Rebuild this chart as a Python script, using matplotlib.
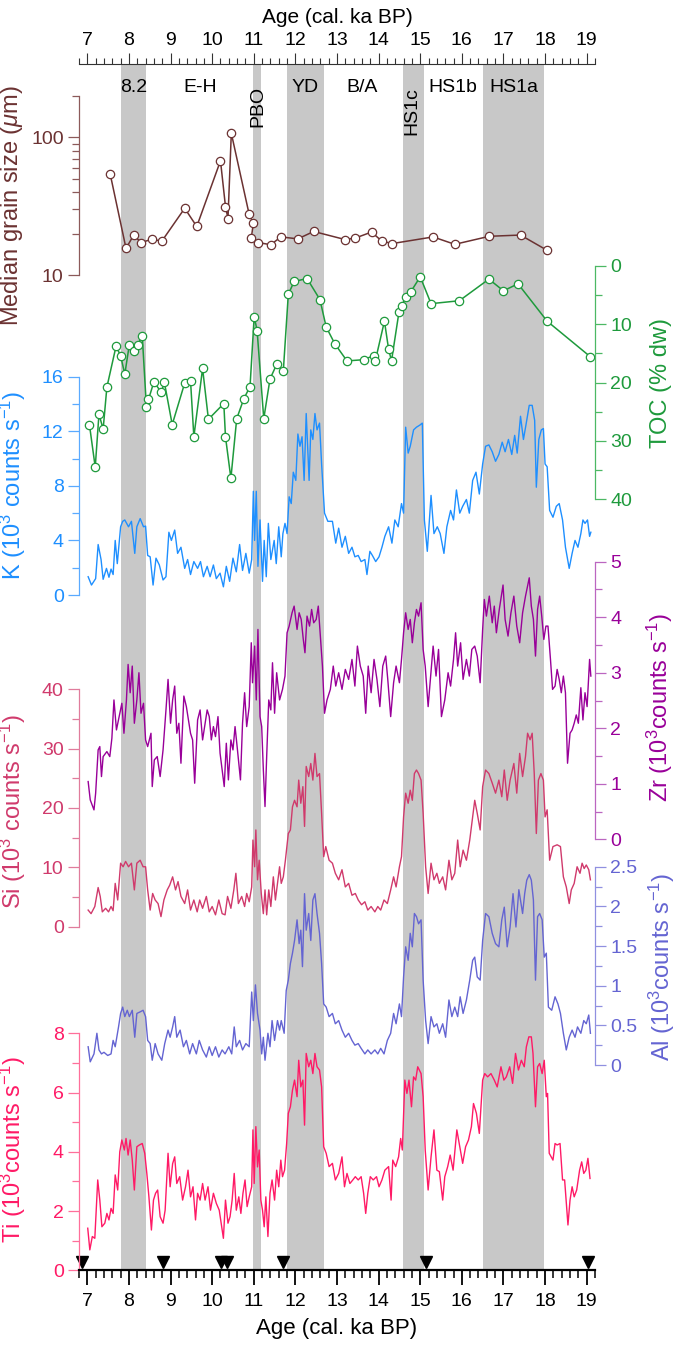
import matplotlib
matplotlib.use('Agg')
import numpy as np
import matplotlib.pyplot as plt
import matplotlib.transforms as mtransforms
from matplotlib.ticker import MultipleLocator, NullFormatter, FixedLocator

plt.rcParams['font.family'] = ['Liberation Sans', 'DejaVu Sans']
plt.rcParams['mathtext.fontset'] = 'custom'
plt.rcParams['mathtext.rm'] = 'Liberation Sans'
plt.rcParams['mathtext.it'] = 'Liberation Sans:italic'
plt.rcParams['mathtext.bf'] = 'Liberation Sans:bold'

# ---------------- data ----------------
bands = [(7.82, 8.40), (10.97, 11.18), (11.81, 12.68), (14.58, 15.08), (16.52, 17.98)]
band_labels = ['8.2', 'E-H', 'PBO', 'YD', 'B/A', 'HS1c', 'HS1b', 'HS1a']
band_label_age = [8.11, 9.72, 11.09, 12.24, 13.61, 14.80, 15.78, 17.25]

grain_age = [7.55, 7.93, 8.11, 8.30, 8.55, 8.79, 9.34, 9.63, 10.20, 10.32, 10.38, 10.46, 10.89, 10.99,
             10.94, 11.10, 11.41, 11.65, 12.06, 12.44, 13.19, 13.43, 13.83, 14.07, 14.32, 15.31,
             15.83, 16.66, 17.41, 18.05]
grain_val = [54, 15.6, 19.4, 17.2, 18.2, 17.6, 30.5, 22.5, 67.5, 31.4, 25.7, 107, 27.5, 23.8,
             18.5, 17.2, 16.6, 18.9, 18.3, 20.7, 18.1, 18.5, 20.5, 17.7, 16.9, 18.9,
             16.7, 19.1, 19.5, 15.1]

toc_age = [7.05, 7.19, 7.28, 7.38, 7.47, 7.69, 7.80, 7.90, 8.01, 8.11, 8.21, 8.32, 8.42, 8.47, 8.60,
           8.78, 8.85, 9.04, 9.34, 9.48, 9.56, 9.77, 9.91, 10.28, 10.32, 10.45, 10.59, 10.76, 10.91,
           11.01, 11.08, 11.24, 11.39, 11.55, 11.71, 11.83, 11.97, 12.28, 12.59, 12.74, 12.95, 13.24,
           13.64, 13.88, 13.92, 14.14, 14.24, 14.31, 14.49, 14.55, 14.66, 14.77, 15.00, 15.26, 15.94,
           16.65, 17.00, 17.35, 18.05, 19.09]
toc_val = [27.2, 34.5, 25.4, 28.0, 20.8, 13.8, 15.4, 18.6, 13.5, 14.6, 13.5, 12.0, 24.2, 22.9, 19.9,
           21.7, 19.9, 27.2, 20.1, 19.7, 29.3, 17.6, 26.3, 23.6, 29.3, 36.4, 26.2, 22.8, 20.7,
           8.7, 11.1, 26.2, 19.4, 16.9, 18.0, 4.9, 2.7, 2.2, 5.8, 10.5, 13.4, 16.3,
           16.1, 15.4, 16.3, 9.5, 14.3, 16.3, 7.9, 6.9, 5.3, 4.5, 1.9, 6.5, 6.0,
           2.3, 4.3, 3.1, 9.5, 15.6]

k_age = [7.02, 7.10, 7.20, 7.26, 7.33, 7.38, 7.46, 7.52, 7.57, 7.62, 7.67, 7.72, 7.80, 7.85, 7.90,
         7.99, 8.06, 8.14, 8.19, 8.27, 8.35, 8.40, 8.45, 8.51, 8.58, 8.65, 8.73, 8.82, 8.89, 8.96,
         9.02, 9.10, 9.17, 9.25, 9.34, 9.41, 9.48, 9.56, 9.65, 9.72, 9.79, 9.88, 9.95, 10.03, 10.10,
         10.19, 10.27, 10.34, 10.42, 10.50, 10.58, 10.66, 10.73, 10.81, 10.89, 10.95, 10.99, 11.02,
         11.06, 11.10, 11.15, 11.21, 11.25, 11.30, 11.35, 11.41, 11.49, 11.54, 11.60, 11.66, 11.70,
         11.75, 11.80, 11.85, 11.90, 11.95, 12.01, 12.06, 12.11, 12.16, 12.21, 12.26, 12.33, 12.37,
         12.42, 12.47, 12.52, 12.58, 12.63, 12.70, 12.78, 12.89, 12.97, 13.04, 13.12, 13.20, 13.28,
         13.36, 13.43, 13.51, 13.58, 13.67, 13.72, 13.79, 13.85, 13.93, 14.01, 14.08, 14.15, 14.24,
         14.32, 14.39, 14.47, 14.55, 14.60, 14.65, 14.71, 14.76, 14.84, 14.91, 14.99, 15.05, 15.10,
         15.17, 15.26, 15.33, 15.41, 15.48, 15.57, 15.64, 15.73, 15.80, 15.87, 15.95, 16.02, 16.11,
         16.18, 16.26, 16.34, 16.42, 16.50, 16.57, 16.65, 16.73, 16.81, 16.89, 16.97, 17.04, 17.12,
         17.20, 17.27, 17.33, 17.41, 17.48, 17.54, 17.62, 17.69, 17.75, 17.79, 17.85, 17.91, 17.96,
         18.00, 18.05, 18.11, 18.19, 18.27, 18.34, 18.42, 18.49, 18.58, 18.65, 18.72, 18.79, 18.86,
         18.91, 18.96, 19.02, 19.07, 19.10]
k_val = [1.34, 0.73, 1.2, 3.7, 2.6, 1.15, 1.95, 1.3, 1.9, 1.5, 4.0, 2.3, 5.0, 5.4, 5.5,
         5.0, 5.4, 3.05, 5.0, 5.6, 5.0, 5.05, 2.9, 2.8, 0.73, 2.7, 2.2, 1.1, 1.34, 4.6,
         4.0, 4.76, 3.05, 3.5, 1.95, 2.6, 1.5, 2.45, 1.95, 2.45, 1.34, 2.1, 1.34, 2.2, 1.2,
         1.6, 0.6, 2.1, 1.0, 2.7, 1.7, 3.7, 1.8, 3.05, 1.6, 2.6, 7.6, 4.0,
         7.6, 2.1, 5.5, 1.0, 4.0, 1.34, 5.25, 2.6, 4.0, 2.3, 5.0, 2.8, 4.5,
         5.25, 4.5, 7.2, 6.7, 9.0, 8.4, 11.8, 10.9, 11.6, 8.4, 13.3, 8.4, 12.1,
         11.4, 13.3, 12.1, 12.6, 9.6, 6.0, 5.4, 5.4, 3.8, 4.9, 3.5, 4.3, 3.05,
         3.5, 2.8, 2.9, 2.45, 2.6, 1.5, 3.2, 2.9, 2.45, 2.8, 3.5, 4.3, 5.0,
         3.8, 5.5, 5.0, 6.7, 6.0, 12.3, 10.4, 10.9, 12.1, 12.3, 12.45, 12.6, 5.5,
         3.2, 7.3, 4.5, 5.0, 4.5, 3.05, 5.0, 6.2, 5.5, 7.7, 6.0, 6.5, 7.0,
         6.0, 8.4, 9.0, 7.4, 9.6, 10.9, 11.0, 10.5, 9.8, 10.3, 11.2, 10.5, 11.4,
         10.3, 11.7, 10.4, 13.1, 11.4, 12.45, 13.9, 13.9, 12.8, 7.9, 11.4, 12.1, 12.2,
         9.6, 9.4, 6.2, 5.7, 6.5, 6.7, 5.5, 3.5, 1.95, 3.05, 4.0, 3.5, 4.5,
         5.5, 5.25, 5.5, 4.3, 4.6]

zr_age = [7.02, 7.07, 7.16, 7.20, 7.26, 7.30, 7.34, 7.38, 7.47, 7.54, 7.59, 7.64, 7.70, 7.78, 7.83,
          7.88, 7.94, 7.98, 8.03, 8.08, 8.13, 8.19, 8.24, 8.29, 8.35, 8.40, 8.45, 8.53, 8.56, 8.61,
          8.68, 8.75, 8.82, 8.89, 8.94, 9.00, 9.05, 9.10, 9.15, 9.20, 9.25, 9.32, 9.38, 9.43, 9.48,
          9.53, 9.58, 9.65, 9.71, 9.77, 9.82, 9.88, 9.93, 9.98, 10.03, 10.08, 10.14, 10.19, 10.24,
          10.29, 10.34, 10.39, 10.45, 10.50, 10.55, 10.60, 10.68, 10.73, 10.78, 10.83, 10.89, 10.94,
          10.97, 11.02, 11.06, 11.10, 11.15, 11.19, 11.23, 11.27, 11.31, 11.36, 11.41, 11.45, 11.50,
          11.55, 11.62, 11.69, 11.75, 11.80, 11.85, 11.92, 11.97, 12.04, 12.09, 12.14, 12.19, 12.23,
          12.28, 12.34, 12.39, 12.44, 12.50, 12.55, 12.60, 12.65, 12.70, 12.76, 12.84, 12.91, 12.97,
          13.04, 13.12, 13.20, 13.28, 13.36, 13.43, 13.49, 13.56, 13.63, 13.69, 13.75, 13.82, 13.89,
          13.96, 14.03, 14.10, 14.17, 14.22, 14.29, 14.36, 14.42, 14.50, 14.55, 14.60, 14.65, 14.71,
          14.76, 14.81, 14.86, 14.91, 14.96, 15.02, 15.07, 15.12, 15.19, 15.31, 15.38, 15.44, 15.51,
          15.59, 15.67, 15.73, 15.80, 15.85, 15.90, 15.97, 16.03, 16.11, 16.18, 16.24, 16.31, 16.37,
          16.44, 16.50, 16.54, 16.59, 16.66, 16.73, 16.78, 16.83, 16.90, 16.99, 17.04, 17.11, 17.18,
          17.25, 17.32, 17.39, 17.46, 17.53, 17.62, 17.67, 17.72, 17.77, 17.82, 17.87, 17.92, 17.97,
          18.02, 18.07, 18.13, 18.18, 18.24, 18.29, 18.34, 18.39, 18.44, 18.49, 18.54, 18.60, 18.65,
          18.70, 18.75, 18.80, 18.86, 18.91, 18.96, 19.01, 19.07, 19.10]
zr_val = [1.04, 0.71, 0.53, 0.83, 1.61, 1.67, 1.13, 1.49, 1.58, 1.49, 1.82, 2.51, 1.97, 2.27, 2.45,
          1.91, 2.51, 3.15, 2.64, 3.12, 2.09, 2.51, 3.0, 2.27, 2.45, 1.79, 1.67, 1.91, 0.95, 1.43,
          1.49, 1.13, 1.61, 2.33, 2.88, 2.09, 2.51, 2.76, 1.91, 2.09, 1.37, 2.58, 2.39, 2.15, 1.91,
          1.79, 1.01, 2.15, 2.33, 1.79, 2.03, 2.33, 2.21, 1.79, 2.03, 1.85, 2.21, 1.55, 1.25,
          0.95, 1.73, 1.07, 1.79, 1.61, 2.03, 1.67, 1.07, 2.09, 2.64, 2.03, 2.39, 3.54,
          2.82, 3.48, 2.51, 3.78, 2.21, 2.03, 1.25, 0.59, 1.49, 2.51, 2.33, 3.18, 2.27,
          3.0, 2.51, 2.70, 2.94, 3.72, 3.84, 4.08, 4.20, 3.78, 4.08, 3.96, 3.60, 3.36,
          4.02, 3.84, 4.14, 3.90, 3.96, 4.20, 3.66, 3.12, 2.27, 2.51, 2.70, 3.12, 2.76,
          3.0, 2.70, 3.06, 2.88, 3.24, 2.76, 3.48, 3.12, 2.94, 2.27, 3.12, 2.64, 3.24,
          2.88, 2.39, 3.12, 3.30, 2.88, 2.21, 2.82, 3.12, 2.82, 3.24, 3.72, 4.08, 3.78,
          3.96, 3.54, 3.90, 4.14, 4.02, 4.26, 3.42, 3.12, 2.39, 3.48, 2.94, 3.42, 2.21,
          2.51, 3.0, 2.76, 3.24, 3.72, 3.12, 3.54, 2.88, 3.24, 2.94, 3.42, 3.48, 3.30,
          2.82, 3.78, 4.32, 4.02, 4.38, 3.90, 4.20, 3.72, 4.14, 4.58, 3.96, 3.66, 4.08,
          4.38, 3.84, 3.54, 4.08, 4.38, 4.71, 4.20, 3.96, 3.30, 4.14, 4.38, 4.02, 3.60,
          3.84, 3.84, 3.24, 2.70, 2.76, 3.06, 2.88, 2.64, 2.94, 2.64, 1.37, 1.91, 1.97,
          2.09, 2.24, 2.09, 2.73, 2.15, 2.64, 2.39, 3.24, 2.94]

si_age = [7.02, 7.09, 7.18, 7.26, 7.31, 7.36, 7.44, 7.51, 7.57, 7.62, 7.67, 7.73, 7.80, 7.86, 7.92,
          7.99, 8.06, 8.13, 8.19, 8.27, 8.34, 8.40, 8.45, 8.51, 8.57, 8.63, 8.70, 8.77, 8.84, 8.92,
          8.98, 9.05, 9.12, 9.18, 9.25, 9.34, 9.41, 9.48, 9.56, 9.64, 9.70, 9.77, 9.86, 9.93, 10.00,
          10.08, 10.16, 10.24, 10.31, 10.37, 10.45, 10.52, 10.57, 10.63, 10.71, 10.78, 10.83, 10.89,
          10.95, 10.98, 11.02, 11.05, 11.09, 11.13, 11.18, 11.23, 11.27, 11.31, 11.36, 11.41, 11.47,
          11.52, 11.57, 11.62, 11.66, 11.71, 11.76, 11.83, 11.88, 11.93, 11.98, 12.04, 12.08, 12.13,
          12.18, 12.22, 12.26, 12.32, 12.37, 12.42, 12.47, 12.52, 12.58, 12.63, 12.68, 12.73, 12.81,
          12.89, 12.96, 13.04, 13.12, 13.20, 13.28, 13.36, 13.44, 13.51, 13.59, 13.67, 13.74, 13.82,
          13.91, 13.98, 14.05, 14.13, 14.21, 14.29, 14.36, 14.42, 14.50, 14.55, 14.60, 14.65, 14.71,
          14.76, 14.81, 14.86, 14.91, 14.96, 15.02, 15.07, 15.13, 15.19, 15.26, 15.33, 15.40, 15.46,
          15.54, 15.61, 15.69, 15.76, 15.83, 15.90, 15.96, 16.03, 16.11, 16.19, 16.26, 16.31, 16.37,
          16.44, 16.50, 16.57, 16.65, 16.73, 16.81, 16.89, 16.96, 17.02, 17.09, 17.16, 17.25, 17.32,
          17.39, 17.46, 17.53, 17.58, 17.64, 17.69, 17.74, 17.79, 17.84, 17.90, 17.96, 18.00, 18.05,
          18.11, 18.19, 18.29, 18.37, 18.44, 18.51, 18.58, 18.63, 18.70, 18.77, 18.84, 18.89, 18.94,
          18.99, 19.05, 19.09]
si_val = [2.8, 2.2, 3.4, 6.6, 5.1, 2.5, 3.1, 2.5, 3.4, 2.7, 7.3, 4.5, 10.7, 10.1, 11.0,
          10.1, 10.7, 6.2, 10.7, 11.2, 10.1, 10.1, 6.2, 2.8, 5.6, 4.5, 3.9, 1.7, 4.5, 6.2,
          7.0, 8.4, 6.2, 7.6, 5.1, 3.9, 6.2, 2.8, 4.5, 2.5, 4.5, 3.1, 5.1, 2.5, 3.4,
          2.0, 4.5, 2.2, 2.0, 5.1, 3.1, 6.2, 9.0, 3.9, 5.1, 3.4, 5.6, 4.2,
          6.7, 14.6, 10.1, 16.3, 7.9, 11.2, 5.6, 2.2, 6.2, 2.0, 6.2, 3.4, 8.4,
          4.5, 7.3, 10.1, 7.3, 8.4, 11.2, 15.7, 16.3, 20.2, 21.3, 20.2, 24.7, 20.8,
          23.6, 16.9, 27.0, 25.3, 27.5, 24.7, 29.2, 25.3, 25.8, 19.1, 11.8, 13.5, 11.2,
          10.7, 9.0, 7.9, 9.6, 6.7, 7.3, 5.3, 5.6, 4.5, 3.7, 4.2, 2.8, 3.4,
          2.5, 3.4, 2.8, 4.5, 3.9, 6.2, 8.4, 6.7, 10.1, 11.8, 18.5, 22.5, 20.8,
          23.0, 21.3, 25.8, 26.4, 25.8, 24.7, 19.1, 10.1, 5.6, 10.7, 7.9, 9.0, 7.3,
          8.4, 6.2, 11.2, 7.9, 9.0, 14.6, 10.1, 12.9, 11.2, 14.6, 18.5, 21.3, 19.1,
          16.3, 23.6, 26.4, 25.8, 24.2, 22.5, 24.7, 21.9, 26.4, 21.3, 24.7, 27.5, 22.5,
          29.2, 25.3, 28.7, 32.6, 31.5, 32.6, 25.8, 15.7, 24.7, 25.8, 24.7, 18.5, 19.7,
          11.2, 13.5, 13.8, 13.5, 8.4, 6.7, 3.9, 6.2, 7.3, 10.1, 9.0, 10.7, 9.8,
          10.4, 9.6, 7.9]

al_age = [7.02, 7.07, 7.16, 7.23, 7.28, 7.34, 7.40, 7.49, 7.57, 7.62, 7.67, 7.75, 7.80, 7.85, 7.90,
          7.96, 8.01, 8.08, 8.14, 8.19, 8.27, 8.34, 8.40, 8.45, 8.51, 8.56, 8.63, 8.70, 8.79, 8.86,
          8.94, 8.99, 9.05, 9.10, 9.15, 9.23, 9.31, 9.38, 9.46, 9.53, 9.62, 9.69, 9.77, 9.86, 9.93,
          10.00, 10.08, 10.16, 10.24, 10.31, 10.40, 10.47, 10.53, 10.58, 10.66, 10.73, 10.81, 10.89,
          10.95, 10.99, 11.04, 11.09, 11.15, 11.19, 11.23, 11.27, 11.34, 11.39, 11.44, 11.50, 11.57,
          11.62, 11.66, 11.73, 11.78, 11.83, 11.88, 11.93, 11.98, 12.04, 12.09, 12.13, 12.17, 12.22,
          12.26, 12.32, 12.37, 12.42, 12.47, 12.52, 12.58, 12.63, 12.68, 12.74, 12.81, 12.89, 12.96,
          13.04, 13.12, 13.20, 13.28, 13.36, 13.43, 13.51, 13.58, 13.67, 13.74, 13.82, 13.91, 13.98,
          14.05, 14.13, 14.21, 14.29, 14.36, 14.42, 14.50, 14.55, 14.60, 14.65, 14.71, 14.76, 14.81,
          14.86, 14.91, 14.96, 15.02, 15.07, 15.13, 15.19, 15.26, 15.33, 15.40, 15.46, 15.54, 15.61,
          15.69, 15.76, 15.83, 15.90, 15.96, 16.03, 16.11, 16.19, 16.26, 16.31, 16.37, 16.44, 16.50,
          16.57, 16.65, 16.73, 16.81, 16.89, 16.96, 17.02, 17.09, 17.16, 17.23, 17.30, 17.37, 17.46,
          17.51, 17.56, 17.62, 17.67, 17.72, 17.77, 17.82, 17.87, 17.93, 17.98, 18.03, 18.08, 18.16,
          18.24, 18.31, 18.37, 18.44, 18.51, 18.58, 18.65, 18.72, 18.78, 18.86, 18.93, 18.99, 19.05,
          19.09]
al_val = [0.23, 0.04, 0.14, 0.40, 0.19, 0.14, 0.16, 0.12, 0.14, 0.31, 0.23, 0.48, 0.65, 0.73, 0.61,
          0.69, 0.61, 0.69, 0.35, 0.65, 0.67, 0.69, 0.61, 0.31, 0.27, 0.06, 0.27, 0.14, 0.06, 0.27,
          0.44, 0.35, 0.48, 0.61, 0.35, 0.44, 0.23, 0.31, 0.14, 0.27, 0.14, 0.31, 0.19, 0.10, 0.23,
          0.12, 0.23, 0.10, 0.19, 0.14, 0.23, 0.14, 0.48, 0.23, 0.31, 0.19, 0.27, 0.23,
          0.92, 0.56, 1.01, 0.65, 0.44, 0.14, 0.35, 0.06, 0.40, 0.23, 0.56, 0.31, 0.56,
          0.44, 0.56, 0.40, 0.94, 1.07, 1.28, 1.41, 1.57, 1.83, 1.53, 1.70, 1.24, 2.16,
          1.70, 1.91, 1.57, 2.08, 2.16, 1.91, 1.66, 1.28, 0.77, 0.73, 0.61, 0.65, 0.52,
          0.56, 0.44, 0.35, 0.40, 0.31, 0.25, 0.27, 0.21, 0.14, 0.19, 0.14, 0.19, 0.14,
          0.21, 0.14, 0.31, 0.40, 0.65, 0.52, 0.77, 0.61, 1.11, 1.49, 1.32, 1.66, 1.49,
          1.91, 1.87, 1.78, 1.83, 1.07, 0.56, 0.27, 0.61, 0.48, 0.52, 0.40, 0.52, 0.35,
          0.82, 0.61, 0.73, 0.61, 0.86, 0.65, 0.82, 1.07, 1.32, 1.36, 1.11, 1.07, 1.57,
          1.91, 1.87, 1.66, 1.53, 1.49, 1.83, 1.99, 1.49, 1.74, 2.16, 1.74, 2.21, 1.91,
          2.16, 2.33, 2.40, 2.33, 2.08, 1.07, 1.87, 1.91, 1.83, 1.36, 1.41, 0.73, 0.69,
          0.86, 0.77, 0.65, 0.40, 0.19, 0.35, 0.44, 0.35, 0.48, 0.40, 0.56, 0.52, 0.63,
          0.40]

ti_age = [7.01, 7.06, 7.12, 7.18, 7.25, 7.30, 7.35, 7.42, 7.47, 7.52, 7.57, 7.62, 7.67, 7.73, 7.78,
          7.83, 7.89, 7.93, 7.98, 8.03, 8.08, 8.13, 8.19, 8.25, 8.32, 8.38, 8.43, 8.48, 8.54, 8.59,
          8.64, 8.69, 8.75, 8.82, 8.87, 8.94, 8.99, 9.05, 9.10, 9.15, 9.22, 9.29, 9.36, 9.42, 9.48,
          9.54, 9.60, 9.65, 9.71, 9.77, 9.83, 9.90, 9.96, 10.03, 10.10, 10.17, 10.23, 10.27, 10.32,
          10.38, 10.43, 10.48, 10.53, 10.58, 10.64, 10.69, 10.74, 10.79, 10.84, 10.89, 10.95, 10.98,
          11.01, 11.05, 11.09, 11.13, 11.17, 11.21, 11.25, 11.29, 11.34, 11.39, 11.44, 11.50, 11.55,
          11.60, 11.65, 11.69, 11.74, 11.79, 11.83, 11.88, 11.93, 11.98, 12.04, 12.08, 12.13, 12.18,
          12.22, 12.26, 12.32, 12.37, 12.42, 12.47, 12.52, 12.58, 12.63, 12.68, 12.74, 12.81, 12.89,
          12.96, 13.04, 13.12, 13.18, 13.24, 13.31, 13.38, 13.44, 13.51, 13.58, 13.64, 13.69, 13.74,
          13.80, 13.87, 13.95, 14.01, 14.08, 14.15, 14.24, 14.30, 14.34, 14.41, 14.48, 14.53, 14.57,
          14.63, 14.68, 14.73, 14.79, 14.84, 14.89, 14.94, 15.02, 15.07, 15.12, 15.19, 15.26, 15.33,
          15.40, 15.46, 15.54, 15.59, 15.66, 15.72, 15.79, 15.88, 15.95, 16.02, 16.09, 16.16, 16.23,
          16.28, 16.35, 16.42, 16.50, 16.55, 16.62, 16.70, 16.78, 16.85, 16.94, 17.01, 17.07, 17.15,
          17.22, 17.29, 17.36, 17.43, 17.50, 17.55, 17.61, 17.67, 17.71, 17.77, 17.82, 17.87, 17.93,
          17.98, 18.03, 18.06, 18.10, 18.19, 18.24, 18.29, 18.36, 18.42, 18.47, 18.55, 18.60, 18.65,
          18.70, 18.76, 18.83, 18.88, 18.93, 18.98, 19.03, 19.08]
ti_val = [1.42, 0.69, 1.14, 1.08, 3.05, 2.37, 1.47, 1.59, 1.92, 1.70, 2.09, 1.92, 3.22, 2.71, 4.0,
          4.40, 4.06, 4.45, 3.89, 4.40, 3.72, 2.71, 4.17, 4.23, 4.28, 3.95, 3.27, 2.48, 1.36, 2.37,
          2.60, 2.71, 1.81, 1.59, 2.03, 3.95, 2.82, 3.60, 3.83, 2.93, 3.16, 2.37, 2.82, 3.38, 2.48,
          2.82, 1.70, 2.60, 2.37, 2.93, 2.37, 2.82, 2.03, 2.60, 2.26, 2.03, 1.47, 1.08, 2.37,
          1.59, 1.81, 2.37, 3.27, 2.03, 2.48, 1.92, 2.60, 3.05, 2.15, 2.48, 2.82, 4.74,
          2.93, 4.85, 3.49, 4.06, 2.37, 2.03, 1.47, 2.48, 1.14, 2.60, 3.05, 2.37, 3.38,
          2.82, 3.72, 3.16, 3.38, 4.28, 5.30, 5.52, 6.08, 6.42, 5.86, 7.09, 6.19, 6.42,
          4.90, 7.32, 6.87, 7.09, 6.64, 7.32, 6.87, 6.76, 6.19, 4.17, 3.95, 3.50, 3.61,
          3.05, 3.27, 3.83, 2.82, 3.27, 2.93, 3.05, 3.16, 3.05, 3.16, 2.60, 1.92, 2.60,
          3.16, 3.05, 3.16, 2.82, 3.05, 3.38, 3.50, 2.37, 3.72, 3.50, 3.83, 4.45, 4.06,
          6.42, 5.97, 6.42, 5.52, 6.53, 6.42, 6.87, 6.64, 5.86, 4.06, 2.71, 3.83, 4.74,
          3.38, 3.33, 2.37, 3.16, 3.50, 3.89, 3.38, 4.74, 4.17, 3.61, 4.17, 4.40, 4.85,
          5.63, 5.30, 4.62, 6.42, 6.64, 6.53, 6.64, 6.42, 6.19, 6.87, 6.42, 6.53, 6.87,
          6.31, 7.32, 6.76, 7.09, 6.87, 7.54, 7.88, 7.88, 7.32, 5.52, 6.87, 6.98, 6.64,
          7.09, 5.86, 5.97, 3.95, 3.72, 4.28, 4.23, 4.28, 3.05, 3.05, 1.53, 2.37, 2.82,
          2.48, 2.71, 3.38, 3.66, 3.27, 3.38, 3.78, 3.10]

date_ages = [6.87, 8.81, 10.21, 10.36, 11.71, 15.14, 19.02]

# ---------------- layout helpers (pixel based) ----------------
W, H = 677, 1346
X_LEFT, X_RIGHT = 79, 595
AGE_LIM = (6.8, 19.2)

fig = plt.figure(figsize=(W / 100, H / 100), dpi=100)


def px_axes(y_top, y_bot):
    ax = fig.add_axes([X_LEFT / W, 1 - y_bot / H, (X_RIGHT - X_LEFT) / W, (y_bot - y_top) / H])
    ax.set_xlim(*AGE_LIM)
    ax.patch.set_visible(False)
    for s in ax.spines.values():
        s.set_visible(False)
    ax.set_xticks([])
    return ax


def style_y(ax, side, label_color, tick_color, major=None, minor=None):
    ax.spines[side].set_visible(True)
    ax.spines[side].set_color(tick_color)
    ax.spines[side].set_linewidth(0.9)
    ax.yaxis.set_ticks_position(side)
    if major is not None:
        ax.yaxis.set_major_locator(MultipleLocator(major))
        ax.yaxis.set_minor_locator(MultipleLocator(minor))
    ax.tick_params(axis='y', which='major', length=8, width=0.9, color=tick_color,
                   labelcolor=label_color, labelsize=14, pad=3)
    ax.tick_params(axis='y', which='minor', length=5, width=0.9, color=tick_color)


def side_label(x_px, y_px, text, color):
    fig.text(x_px / W, 1 - y_px / H, text, rotation=90, ha='center', va='center',
             color=color, fontsize=17)


# ---------------- shaded intervals + top axis ----------------
ax_bg = px_axes(64, 1270.3)
for a0, a1 in bands:
    ax_bg.axvspan(a0, a1, color='#c8c8c8', lw=0, zorder=0)
ax_bg.set_ylim(0, 1)
ax_bg.set_yticks([])
ax_bg.spines['top'].set_visible(True)
ax_bg.spines['top'].set_linewidth(0.8)
ax_bg.spines['top'].set_color('#333333')
ax_bg.xaxis.set_ticks_position('top')
ax_bg.xaxis.set_label_position('top')
ax_bg.set_xticks(range(7, 20))
ax_bg.xaxis.set_minor_locator(MultipleLocator(0.2))
ax_bg.tick_params(axis='x', which='major', direction='out', length=8, width=0.8,
                  color='#333333', labelsize=14, pad=3)
ax_bg.tick_params(axis='x', which='minor', direction='out', length=4, width=0.8, color='#333333')
ax_bg.set_xlabel('Age (cal. ka BP)', fontsize=15, labelpad=6)

blend = mtransforms.blended_transform_factory(ax_bg.transData, fig.transFigure)
for lab, age in zip(band_labels, band_label_age):
    if lab in ('PBO', 'HS1c'):
        yc = 106 if lab == 'PBO' else 111
        ax_bg.text(age, 1 - yc / H, lab, transform=blend, rotation=90, ha='center',
                   va='center', fontsize=14)
    else:
        ax_bg.text(age, 1 - 88 / H, lab, transform=blend, ha='center', va='center', fontsize=14)

# ---------------- grain size (log) ----------------
c_grain = '#6b3232'
ax_g = px_axes(95.8, 275)
ax_g.set_yscale('log')
ax_g.set_ylim(10, 200)
style_y(ax_g, 'left', c_grain, '#8c5a5a')
ax_g.yaxis.set_major_locator(FixedLocator([10, 100]))
ax_g.yaxis.set_minor_locator(FixedLocator([20, 30, 40, 50, 60, 70, 80, 90, 200]))
ax_g.yaxis.set_minor_formatter(NullFormatter())
ax_g.set_yticklabels(['10', '100'])
ax_g.plot(grain_age, grain_val, '-o', color=c_grain, lw=1.1, ms=6, mfc='white',
          mec=c_grain, mew=0.9, clip_on=False)
side_label(12, 206, r'Median grain size ($\mu$m)', c_grain)

# ---------------- TOC ----------------
c_toc = '#1e9a3c'
ax_t = px_axes(265.7, 499.3)
ax_t.set_ylim(40, 0)
style_y(ax_t, 'right', c_toc, '#4cb864', 10, 5)
ax_t.plot(toc_age, toc_val, '-o', color=c_toc, lw=1.1, ms=6, mfc='white',
          mec=c_toc, mew=0.9, clip_on=False)
side_label(661, 383, 'TOC (% dw)', c_toc)

# ---------------- K ----------------
c_k = '#1e8fff'
ax_k = px_axes(376.7, 595)
ax_k.set_ylim(0, 16)
style_y(ax_k, 'left', c_k, '#5aaaff', 4, 2)
ax_k.plot(k_age, k_val, color=c_k, lw=1.0, clip_on=False)
side_label(13, 485, r'K (10$^3$ counts s$^{-1}$)', c_k)

# ---------------- Zr ----------------
c_zr = '#990099'
ax_z = px_axes(561.7, 839.3)
ax_z.set_ylim(0, 5)
style_y(ax_z, 'right', c_zr, '#bb66c0', 1, 0.5)
ax_z.plot(zr_age, zr_val, color=c_zr, lw=1.0, clip_on=False)
side_label(660, 707, r'Zr (10$^3$counts s$^{-1}$)', c_zr)

# ---------------- Si ----------------
c_si = '#d03a6c'
ax_s = px_axes(689.3, 926.7)
ax_s.set_ylim(0, 40)
style_y(ax_s, 'left', c_si, '#e07c9c', 10, 5)
ax_s.plot(si_age, si_val, color=c_si, lw=1.0, clip_on=False)
side_label(13, 812, r'Si (10$^3$ counts s$^{-1}$)', c_si)

# ---------------- Al ----------------
c_al = '#6464d2'
ax_a = px_axes(866.7, 1065)
ax_a.set_ylim(0, 2.5)
style_y(ax_a, 'right', c_al, '#9090e0', 0.5, 0.25)
ax_a.yaxis.set_major_formatter(plt.FuncFormatter(lambda v, p: '%g' % v))
ax_a.plot(al_age, al_val, color=c_al, lw=1.0, clip_on=False)
side_label(662, 967, r'Al (10$^3$counts s$^{-1}$)', c_al)

# ---------------- Ti + bottom axis ----------------
c_ti = '#ff1a66'
ax_ti = px_axes(1033.3, 1270.3)
ax_ti.set_ylim(0, 8)
style_y(ax_ti, 'left', c_ti, '#ff6f9a', 2, 1)
ax_ti.plot(ti_age, ti_val, color=c_ti, lw=1.0, clip_on=False)
side_label(13, 1150, r'Ti (10$^3$counts s$^{-1}$)', c_ti)

ax_ti.spines['bottom'].set_visible(True)
ax_ti.spines['bottom'].set_linewidth(1.6)
ax_ti.spines['bottom'].set_color('black')
ax_ti.set_xticks(range(7, 20))
ax_ti.xaxis.set_minor_locator(MultipleLocator(0.2))
ax_ti.tick_params(axis='x', which='major', direction='out', length=11, width=1.3,
                  labelsize=14, pad=5)
ax_ti.tick_params(axis='x', which='minor', direction='out', length=6, width=1.1)
ax_ti.set_xlabel('Age (cal. ka BP)', fontsize=16, labelpad=6)

tri = mtransforms.blended_transform_factory(ax_ti.transData, ax_ti.transAxes)
ax_ti.plot(date_ages, [0.036] * len(date_ages), 'v', color='black', ms=9,
           transform=tri, clip_on=False)

fig.savefig('out.png', dpi=100)
